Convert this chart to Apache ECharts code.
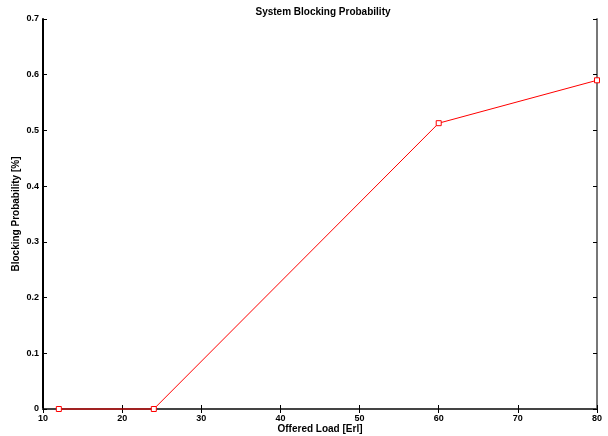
<!DOCTYPE html>
<html><head><meta charset="utf-8">
<script src="https://cdn.jsdelivr.net/npm/echarts@6/dist/echarts.min.js"></script>
<style>html,body{margin:0;padding:0;background:#fff}#c{width:608px;height:436px}</style>
</head><body><div id="c"></div>
<script>
const offeredLoad = [12, 24, 60, 80];
const blockingProb = [0, 0, 0.513, 0.59];
const xTicks = [10, 20, 30, 40, 50, 60, 70, 80];
const yTicks = [0, 0.1, 0.2, 0.3, 0.4, 0.5, 0.6, 0.7];

const chart = echarts.init(document.getElementById('c'));
const font = {fontFamily: 'Liberation Sans, Arial, sans-serif', fontWeight: 'bold', fontSize: 9, color: '#000'};
const nameFont = Object.assign({}, font, {fontSize: 10});
chart.setOption({
  animation: false,
  backgroundColor: '#fff',
  title: {text: 'System Blocking Probability', left: 318, textAlign: 'center', top: 2,
    textStyle: Object.assign({}, font, {fontSize: 10})},
  grid: {left: 43, right: 11, top: 19, bottom: 27, outerBoundsMode: 'none', containLabel: false},
  xAxis: [{
    type: 'value', min: xTicks[0], max: xTicks[xTicks.length-1], interval: 10,
    name: 'Offered Load [Erl]', nameLocation: 'middle', nameGap: 15, nameMoveOverlap: false,
    nameTextStyle: nameFont,
    axisLine: {lineStyle: {color: '#000', width: 2}},
    axisTick: {inside: true, length: 4, lineStyle: {color: '#000'}},
    axisLabel: Object.assign({margin: 5}, font),
    splitLine: {show: false}
  }, {
    type: 'value', position: 'top', min: 10, max: 80, interval: 10,
    axisLine: {show: true, lineStyle: {color: '#444', width: 2}},
    axisTick: {inside: true, length: 4, lineStyle: {color: '#000'}},
    axisLabel: {show: false}, splitLine: {show: false}
  }],
  yAxis: [{
    type: 'value', min: yTicks[0], max: yTicks[yTicks.length-1], interval: 0.1,
    name: 'Blocking Probability [%]', nameLocation: 'middle', nameGap: 22, nameMoveOverlap: false,
    nameTextStyle: nameFont,
    axisLine: {show: true, lineStyle: {color: '#000', width: 2}},
    axisTick: {show: true, inside: true, length: 4, lineStyle: {color: '#000'}},
    axisLabel: Object.assign({margin: 4}, font),
    splitLine: {show: false}
  }, {
    type: 'value', position: 'right', min: 0, max: 0.7, interval: 0.1,
    axisLine: {show: true, lineStyle: {color: '#777', width: 2}},
    axisTick: {show: true, inside: true, length: 4, lineStyle: {color: '#000'}},
    axisLabel: {show: false}, splitLine: {show: false}
  }],
  series: [{
    type: 'line', xAxisIndex: 0, yAxisIndex: 0,
    data: offeredLoad.map((x, i) => [x, blockingProb[i]]),
    clip: false,
    symbol: 'rect', symbolSize: 5,
    lineStyle: {color: '#ff0000', width: 1},
    itemStyle: {color: '#fff', borderColor: '#ff0000', borderWidth: 1}
  }]
});
</script></body></html>
